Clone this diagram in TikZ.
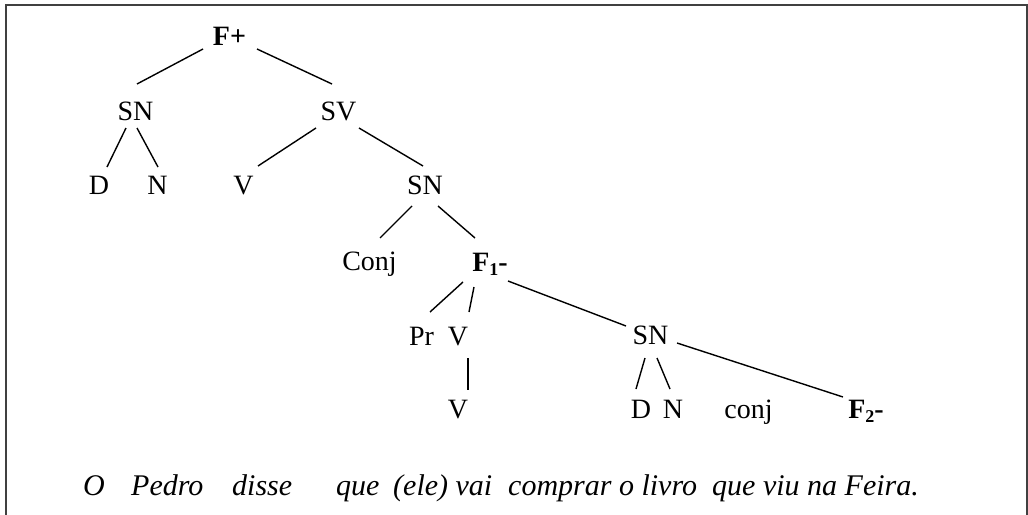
\documentclass[tikz,border=0pt]{standalone}
\usepackage{fontspec}
\setmainfont{Liberation Serif}
\begin{document}
\begin{tikzpicture}[x=1pt,y=-1pt,
  lbl/.style={anchor=base, inner sep=0pt, font=\fontsize{28}{34}\selectfont},
  bl/.style={lbl, font=\fontsize{28}{34}\selectfont\bfseries},
  wd/.style={anchor=base west, inner sep=0pt, font=\fontsize{30}{36}\selectfont\itshape},
  edge/.style={line width=1.4pt, line cap=butt},
  frame/.style={line width=1.6pt, draw=black!75}]
\useasboundingbox (0,0) rectangle (1028,514);
\draw[frame] (6,520) -- (6,5) -- (1027,5) -- (1027,520);
\newcommand{\sub}[1]{\raisebox{-4pt}{\fontsize{18}{18}\selectfont #1}}
% tree nodes
\node[bl]  (fp)  at (229.5,45) {F+};
\node[lbl] (sna) at (135.5,120) {SN};
\node[lbl] (sv)  at (338.5,120) {SV};
\node[lbl] (da)  at (99,194) {D};
\node[lbl] (na)  at (157.5,194) {N};
\node[lbl] (va)  at (243.5,194) {V};
\node[lbl] (snb) at (425,194) {SN};
\node[lbl] (cj)  at (369.5,270) {Conj};
\node[bl]  (fa)  at (490,271) {F\sub{1}-};
\node[lbl] (pr)  at (421.5,345) {Pr};
\node[lbl] (vb)  at (458,345) {V};
\node[lbl] (snc) at (650.5,344) {SN};
\node[lbl] (vc)  at (458,418) {V};
\node[lbl] (db)  at (641,418) {D};
\node[lbl] (nb)  at (673,418) {N};
\node[lbl] (cjb) at (748.5,418) {conj};
\node[bl]  (fb)  at (866,418) {F\sub{2}-};
% connectors
\newcommand{\link}[4]{\draw[edge] ([shift={(#2)}]#1.base) -- ([shift={(#4)}]#3.base);}
\link{fp}{-26.5,4}{sna}{1.5,-36}
\link{fp}{27.5,4}{sv}{-6.5,-36}
\link{sna}{-9.5,8}{da}{8,-27}
\link{sna}{1.5,8}{na}{0.5,-27}
\link{sv}{-22.5,8}{va}{14.5,-28}
\link{sv}{20.5,8}{snb}{-2,-28}
\link{snb}{-13,12}{cj}{10.5,-32}
\link{snb}{13,12}{fa}{-15,-33}
\link{fa}{-27,11}{pr}{8.5,-33}
\link{fa}{-16,16}{vb}{11,-33}
\link{fa}{18,10}{snc}{-24.5,-18}
\link{vb}{10,13}{vc}{10,-28}
\link{snc}{-5.5,14}{db}{-5,-29}
\link{snc}{6.5,14}{nb}{-3,-29}
\link{snc}{26.5,-1}{fb}{-23,-21}
% sentence
\node[wd] (w1) at (83,495) {O};
\node[wd] (w2) at (131,495) {Pedro};
\node[wd] (w3) at (232,495) {disse};
\node[wd] (w4) at (336,495) {que};
\node[wd] (w5) at (393,495) {(ele) vai};
\node[wd] (w6) at (508,495) {comprar o livro};
\node[wd] (w7) at (712,495) {que viu na Feira.};
\end{tikzpicture}
\end{document}
